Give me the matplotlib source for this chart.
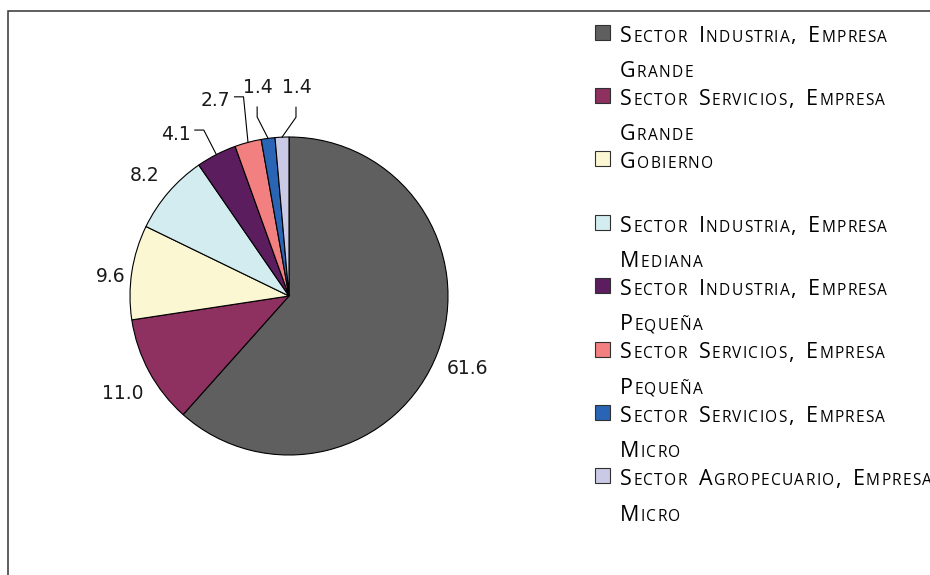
import numpy as np
import matplotlib
matplotlib.use('Agg')
import matplotlib.pyplot as plt
from matplotlib.patches import Rectangle

# data
categories = ['Sector Industria, Empresa|Grande',
              'Sector Servicios, Empresa|Grande',
              'Gobierno',
              'Sector Industria, Empresa|Mediana',
              'Sector Industria, Empresa|Pequeña',
              'Sector Servicios, Empresa|Pequeña',
              'Sector Servicios, Empresa|Micro',
              'Sector Agropecuario, Empresa|Micro']
values = [61.6, 11.0, 9.6, 8.2, 4.1, 2.7, 1.4, 1.4]
colors = ['#5f5f5f', '#8e3060', '#faf7d2', '#d2ecf0',
          '#5c1d5e', '#f28080', '#2a64b4', '#cbcae6']

# label placement (distance in radii, angle shift in degrees, leader type)
lab_dist = [1.205, 1.206, 1.13, 1.19, 1.25, 1.32, 1.335, 1.32]
lab_shift = [-0.8, 1.6, 1.9, 0.4, 7.5, 5.5, 0.8, -4.7]
lab_leader = [None, None, None, None, 'side', 'side', 'below', 'below']

W, H = 930, 575
fig = plt.figure(figsize=(W / 100, H / 100), dpi=100)
ax = fig.add_axes([0, 0, 1, 1])
renderer = fig.canvas.get_renderer()

cx, cy, r = 289, H - 296, 159
wedges, _ = ax.pie(values, colors=colors, startangle=90, counterclock=False,
                   center=(cx, cy), radius=r,
                   wedgeprops=dict(edgecolor='black', linewidth=0.8))
ax.set_xlim(0, W)
ax.set_ylim(0, H)
ax.set_aspect('auto')
ax.set_axis_off()

# outer frame (only left and top edges show in the picture)
ax.add_patch(Rectangle((8, -20), W + 20, H - 11 + 20, fill=False,
                       edgecolor='#333333', linewidth=1.1))

# value labels
for w, v, d, sh, lead in zip(wedges, values, lab_dist, lab_shift, lab_leader):
    mid = np.deg2rad((w.theta1 + w.theta2) / 2)
    ang = mid + np.deg2rad(sh)
    tx, ty = cx + d * r * np.cos(ang), cy + d * r * np.sin(ang)
    t = ax.text(tx, ty - 7, '%.1f' % v, ha='center', va='baseline',
                fontsize=13.5, family='DejaVu Sans', color='#1a1a1a')
    if lead is None:
        continue
    hw = t.get_window_extent(renderer).width / 2
    rim = (cx + r * np.cos(mid), cy + r * np.sin(mid))
    if lead == 'side':
        end = (tx + hw + 4, ty + 2.5)
        elbow = (end[0] + 9, end[1])
    else:
        end = (tx - 1, ty - 21)
        elbow = (tx - 1, ty - 31)
    ax.plot([end[0], elbow[0], rim[0]], [end[1], elbow[1], rim[1]],
            color='black', linewidth=0.8)

# legend with small caps text
leg_font = 'Open Sans'
leg_size = 15.5
small = 0.72


def sc_chars(s):
    out = []
    for ch in s:
        if ch == ' ':
            out.append((' ', None))
        elif ch.islower():
            out.append((ch.upper(), leg_size * small))
        else:
            out.append((ch, leg_size))
    return out


def char_width(ch, size):
    t = ax.text(0, 0, ch, fontsize=size, family=leg_font)
    wpx = t.get_window_extent(renderer).width
    t.remove()
    return wpx


# fit the letter spacing to the width of the reference line
word_gap = 12
probe = sc_chars('Sector Industria, Empresa')
ink = sum(char_width(c, s) for c, s in probe if s is not None)
n_sp = sum(1 for c, s in probe if s is None)
n_ch = len(probe) - n_sp
gap = (267 - ink - n_sp * word_gap) / (n_ch - 1 - n_sp)


def draw_sc(x, y, s):
    for ch, size in sc_chars(s):
        if size is None:
            x += word_gap - gap
            continue
        t = ax.text(x, y, ch, fontsize=size, family=leg_font,
                    ha='left', va='baseline', color='black')
        x += t.get_window_extent(renderer).width + gap


for i, (lab, col) in enumerate(zip(categories, colors)):
    base = 41.5 + 63.4 * i
    ax.add_patch(Rectangle((594.5, H - base + 2), 15, 15,
                           facecolor=col, edgecolor='#303030', linewidth=0.8))
    for j, line in enumerate(lab.split('|')):
        draw_sc(620, H - (base + 35.3 * j), line)

fig.savefig('out.png', dpi=100)
